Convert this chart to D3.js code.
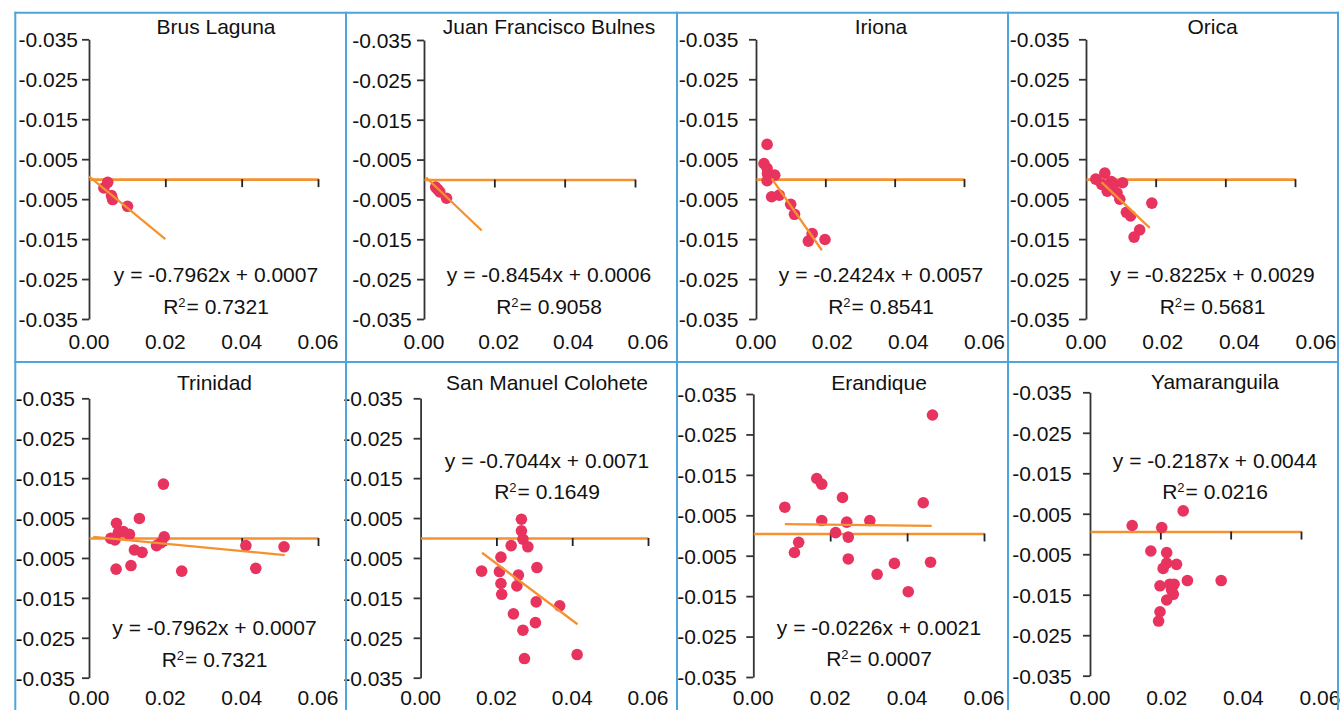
<!DOCTYPE html>
<html><head><meta charset="utf-8">
<script src="https://cdn.jsdelivr.net/npm/d3@7"></script>
<style>body{margin:0;background:#fff;} svg{display:block;font-family:"Liberation Sans",Arial,sans-serif;}</style>
</head><body><svg id="chart" width="1340" height="710"></svg>
<script>
// ---------------- DATA ----------------
const panelNames = ["Brus Laguna","Juan Francisco Bulnes","Iriona","Orica","Trinidad","San Manuel Colohete","Erandique","Yamaranguila"];
const equations = ["y = -0.7962x + 0.0007","y = -0.8454x + 0.0006","y = -0.2424x + 0.0057","y = -0.8225x + 0.0029","y = -0.7962x + 0.0007","y = -0.7044x + 0.0071","y = -0.0226x + 0.0021","y = -0.2187x + 0.0044"];
const rSquared = ["0.7321","0.9058","0.8541","0.5681","0.7321","0.1649","0.0007","0.0216"];
const xTickValues = [0, 0.02, 0.04, 0.06];
const xTickLabels = ["0.00","0.02","0.04","0.06"];
const yTickValues = [0.035,0.025,0.015,0.005,-0.005,-0.015,-0.025,-0.035];
const yTickLabels = ["-0.035","-0.025","-0.015","-0.005","-0.005","-0.015","-0.025","-0.035"];
const axisCross = [0,0,0,0,0,0,0.0005,0.0006];

const xBrusLaguna = [0.0039,0.0049,0.0059,0.0062,0.0101];
const yBrusLaguna = [-0.0022,-0.0008,-0.0041,-0.0051,-0.0068];
const xJuanFrancisco = [0.0033,0.0039,0.0045,0.0064];
const yJuanFrancisco = [-0.0019,-0.0025,-0.0031,-0.0047];
const xIriona = [0.0032,0.0023,0.0032,0.0033,0.0054,0.0032,0.0045,0.0067,0.0100,0.0111,0.0162,0.0151,0.0199];
const yIriona = [0.0087,0.0039,0.0027,0.0014,0.0010,-0.0004,-0.0044,-0.0040,-0.0063,-0.0088,-0.0136,-0.0155,-0.0151];
const xOrica = [0.0028,0.0054,0.0045,0.0061,0.0073,0.0080,0.0105,0.0089,0.0097,0.0116,0.0128,0.0154,0.0138,0.0189];
const yOrica = [0.0000,0.0015,-0.0013,-0.0030,-0.0006,-0.0013,-0.0009,-0.0034,-0.0050,-0.0083,-0.0092,-0.0127,-0.0145,-0.0060];
const xTrinidad = [0.0195,0.0072,0.0132,0.0057,0.0068,0.0077,0.0090,0.0106,0.0071,0.0110,0.0119,0.0139,0.0177,0.0188,0.0197,0.0243,0.0411,0.0437,0.0511];
const yTrinidad = [0.0135,0.0037,0.0049,-0.0001,-0.0005,0.0014,0.0016,0.0009,-0.0078,-0.0069,-0.0030,-0.0036,-0.0019,-0.0012,0.0003,-0.0083,-0.0019,-0.0076,-0.0022];
const xSanManuel = [0.0266,0.0266,0.0270,0.0239,0.0283,0.0212,0.0161,0.0208,0.0258,0.0307,0.0212,0.0254,0.0214,0.0305,0.0367,0.0245,0.0303,0.0270,0.0274,0.0413];
const ySanManuel = [0.0047,0.0018,-0.0003,-0.0019,-0.0022,-0.0048,-0.0083,-0.0084,-0.0093,-0.0074,-0.0114,-0.0120,-0.0141,-0.0160,-0.0170,-0.0190,-0.0212,-0.0231,-0.0302,-0.0292];
const xErandique = [0.0466,0.0165,0.0178,0.0082,0.0232,0.0442,0.0178,0.0243,0.0303,0.0214,0.0247,0.0118,0.0107,0.0247,0.0367,0.0461,0.0322,0.0403];
const yErandique = [0.0298,0.0141,0.0127,0.0070,0.0094,0.0081,0.0037,0.0033,0.0037,0.0007,-0.0004,-0.0017,-0.0042,-0.0058,-0.0069,-0.0066,-0.0096,-0.0139];
const xYamaranguila = [0.0265,0.0120,0.0204,0.0173,0.0218,0.0246,0.0218,0.0208,0.0277,0.0373,0.0199,0.0227,0.0239,0.0232,0.0237,0.0218,0.0199,0.0195];
const yYamaranguila = [0.0057,0.0021,0.0016,-0.0042,-0.0046,-0.0075,-0.0072,-0.0085,-0.0115,-0.0115,-0.0128,-0.0124,-0.0124,-0.0138,-0.0149,-0.0163,-0.0192,-0.0215];

const pointsX = [xBrusLaguna,xJuanFrancisco,xIriona,xOrica,xTrinidad,xSanManuel,xErandique,xYamaranguila];
const pointsY = [yBrusLaguna,yJuanFrancisco,yIriona,yOrica,yTrinidad,ySanManuel,yErandique,yYamaranguila];

// trend line end points (as drawn)
const trendX = [[0,0.0200],[0.0006,0.0164],[0.0045,0.0190],[0.0045,0.0183],[0.0011,0.0513],[0.0162,0.0414],[0.0082,0.0464],null];
const trendY = [[0.0007,-0.0150],[0.0005,-0.0128],[0.0002,-0.0178],[-0.0008,-0.0122],[0.0003,-0.0043],[-0.0037,-0.0216],[0.0028,0.0024],null];

// ---------------- LAYOUT ----------------
const panelLayout = [
 {px:89,    pw:229,   lw:229,   pt:39.3,  pb:319,   lx:78,     tx:216,    ty:34,    eqY:282,   r2Y:313.5, xlY:349},
 {px:424,   pw:211,   lw:224,   pt:40,    pb:319,   lx:411.7,  tx:549,    ty:34,    eqY:282,   r2Y:313.5, xlY:349},
 {px:756,   pw:208,   lw:228.5, pt:39.3,  pb:319,   lx:738.3,  tx:881,    ty:34,    eqY:282,   r2Y:313.5, xlY:349},
 {px:1086,  pw:209,   lw:230,   pt:39.3,  pb:319,   lx:1069.3, tx:1212.5, ty:34,    eqY:282,   r2Y:313.5, xlY:349},
 {px:89,    pw:229,   lw:229,   pt:398.3, pb:677.7, lx:75,     tx:214.5,  ty:389.5, eqY:635,   r2Y:666.5, xlY:705},
 {px:420.6, pw:227.4, lw:227.4, pt:398.3, pb:677.7, lx:402.7,  tx:547,    ty:390,   eqY:468.3, r2Y:499,   xlY:705},
 {px:753.3, pw:230.7, lw:230.7, pt:394,   pb:677,   lx:736.7,  tx:879,    ty:390,   eqY:635,   r2Y:665.7, xlY:705},
 {px:1090,  pw:211,   lw:230,   pt:392.3, pb:675.7, lx:1071.7, tx:1215,   ty:389,   eqY:468,   r2Y:499,   xlY:705}
];
const colX = [15.3, 346, 677, 1008, 1338];
const rowY = [12.7, 362, 720];
const ORANGE = "#F5922F", DOT = "#E8335E", BLUE = "#4EA5DC", FS = 21, INK = "#111";

const svg = d3.select("#chart");

panelLayout.forEach((L, i) => {
  const x = d3.scaleLinear().domain([0, 0.06]).range([L.px, L.px + L.pw]);
  const xl = d3.scaleLinear().domain([0, 0.06]).range([L.px, L.px + L.lw]);
  const y = d3.scaleLinear().domain([0.035, -0.035]).range([L.pt, L.pb]);
  const g = svg.append("g");

  // Y axis
  g.append("g").attr("transform", `translate(${L.px},0)`)
    .call(d3.axisLeft(y).tickValues(yTickValues).tickSizeInner(7).tickSizeOuter(0)
      .tickFormat((d, j) => yTickLabels[j]))
    .call(a => {
      a.select(".domain").attr("stroke", "#333").attr("stroke-width", 1.8);
      a.selectAll(".tick line").attr("stroke", "#333").attr("stroke-width", 1.8);
      a.selectAll(".tick text").attr("x", L.lx - L.px).attr("dy", "0.35em")
        .attr("font-size", FS).attr("font-family", "Liberation Sans, Arial, sans-serif").attr("fill", INK);
    });

  // X axis (orange line crossing with black ticks)
  g.append("g").attr("transform", `translate(0,${y(axisCross[i])})`)
    .call(d3.axisBottom(x).tickValues(xTickValues.slice(1)).tickSizeInner(8).tickSizeOuter(0).tickFormat(""))
    .call(a => {
      a.select(".domain").attr("stroke", ORANGE).attr("stroke-width", 2.6);
      a.selectAll(".tick line").attr("stroke", "#222").attr("stroke-width", 1.8);
    });

  // X tick labels at bottom of plot
  g.selectAll("text.xl").data(xTickValues).enter().append("text")
    .attr("x", d => xl(d)).attr("y", L.xlY)
    .attr("text-anchor", "middle").attr("font-size", FS).attr("fill", INK)
    .text((d, j) => xTickLabels[j]);

  // points
  g.selectAll("circle").data(pointsX[i].map((v, k) => [v, pointsY[i][k]])).enter().append("circle")
    .attr("cx", d => x(d[0])).attr("cy", d => y(d[1])).attr("r", 5.8).attr("fill", DOT);

  // trend line
  if (trendX[i]) {
    g.append("line")
      .attr("x1", x(trendX[i][0])).attr("y1", y(trendY[i][0]))
      .attr("x2", x(trendX[i][1])).attr("y2", y(trendY[i][1]))
      .attr("stroke", ORANGE).attr("stroke-width", 2.3);
  }

  // title
  g.append("text").attr("x", L.tx).attr("y", L.ty).attr("text-anchor", "middle")
    .attr("font-size", FS).attr("fill", INK).text(panelNames[i]);

  // equation & R²
  g.append("text").attr("x", L.tx).attr("y", L.eqY).attr("text-anchor", "middle")
    .attr("font-size", FS).attr("fill", INK).text(equations[i]);
  const r = g.append("text").attr("x", L.tx).attr("y", L.r2Y).attr("text-anchor", "middle")
    .attr("font-size", FS).attr("fill", INK);
  r.append("tspan").text("R");
  r.append("tspan").attr("font-size", 13).attr("dy", -7).text("2");
  r.append("tspan").attr("dy", 7).attr("dx", 1).text("= " + rSquared[i]);
});

// panel borders
colX.forEach(cx => svg.append("line").attr("x1", cx).attr("x2", cx).attr("y1", rowY[0] - 1).attr("y2", rowY[2])
  .attr("stroke", BLUE).attr("stroke-width", 2));
rowY.slice(0, 2).forEach(ry => svg.append("line").attr("x1", colX[0] - 1).attr("x2", colX[4] + 1).attr("y1", ry).attr("y2", ry)
  .attr("stroke", BLUE).attr("stroke-width", 2));
</script></body></html>
